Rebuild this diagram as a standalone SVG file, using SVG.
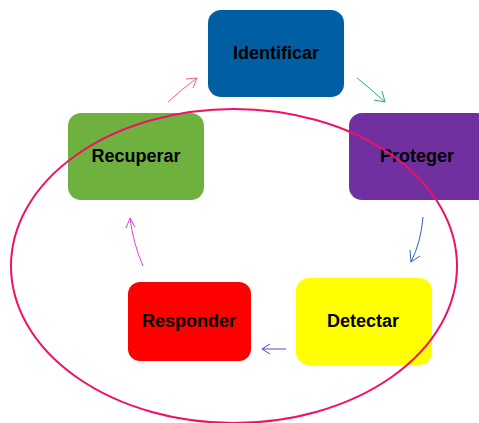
<svg xmlns="http://www.w3.org/2000/svg" width="479" height="423" viewBox="0 0 479 423">
  <style>
    .box { stroke: none; }
    .lbl { font-family: "Liberation Sans", Arial, sans-serif; font-weight: bold; font-size: 18px; fill: #000; text-anchor: middle; dominant-baseline: central; }
    .conn { fill: none; stroke-width: 1; }
  </style>
  <rect width="479" height="423" fill="#fff"/>

  <g id="identificar">
    <rect class="box" x="208" y="10" width="136" height="87" rx="13" fill="#005ea2"/>
    <text class="lbl" x="276" y="53">Identificar</text>
  </g>
  <g id="proteger">
    <rect class="box" x="349" y="113" width="140" height="87" rx="13" fill="#7030a0"/>
    <text class="lbl" x="417" y="156">Proteger</text>
  </g>
  <g id="detectar">
    <rect class="box" x="296" y="278" width="136" height="87" rx="13" fill="#ffff00"/>
    <text class="lbl" x="363" y="321">Detectar</text>
  </g>
  <g id="responder">
    <rect class="box" x="128" y="282" width="123" height="79" rx="12" fill="#ff0000"/>
    <text class="lbl" x="189" y="321">Responder</text>
  </g>
  <g id="recuperar">
    <rect class="box" x="68" y="113" width="136" height="87" rx="13" fill="#6fb13f"/>
    <text class="lbl" x="136" y="156">Recuperar</text>
  </g>

  <g id="connectors">
    <path class="conn" stroke="#f0607a" d="M168 102 Q182 89 197 78 M186 79 L197 78 L193 88"/>
    <path class="conn" stroke="#2aa89a" d="M357 78 Q371 89 385 102 M374 100 L385 102 L382 91"/>
    <path class="conn" stroke="#2f5fc4" d="M423 217 Q421 242 411 262 M410 250 L411 262 L420 256"/>
    <path class="conn" stroke="#6a3cc8" d="M286 349 L262 349 M270 344 L262 349 L270 354"/>
    <path class="conn" stroke="#e040e0" d="M143 266 Q133 243 130 218 M126 228 L130 218 L135 227"/>
  </g>

  <g id="ring">
    <ellipse cx="234" cy="266" rx="223" ry="157" fill="none" stroke="#ee1166" stroke-width="2"/>
  </g>
</svg>
